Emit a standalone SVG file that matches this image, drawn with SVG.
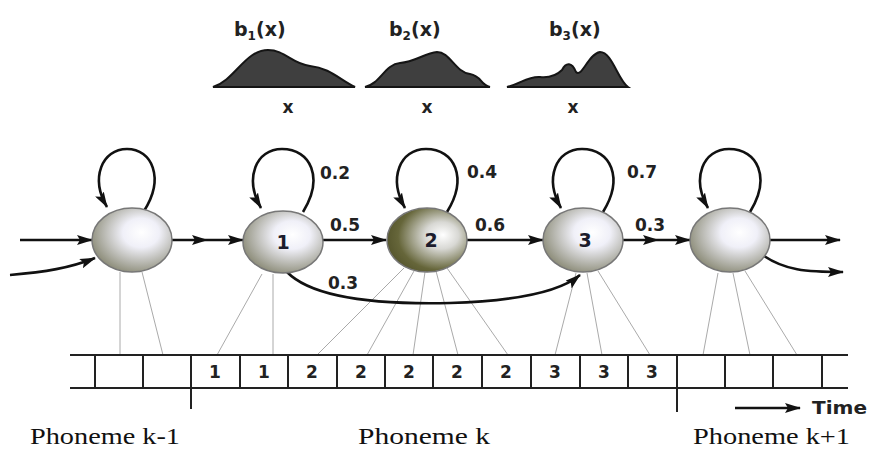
<svg xmlns="http://www.w3.org/2000/svg" width="869" height="450" viewBox="0 0 869 450">
<style>
.conn{fill:none;stroke:#111;stroke-width:2.6}
.thin{fill:none;stroke:#aaa;stroke-width:1}
.grid{fill:none;stroke:#222;stroke-width:2}
.lab{font-family:"DejaVu Sans","Liberation Sans",sans-serif;font-weight:bold;font-size:17px;fill:#222}
.top{font-size:19px}
.st{font-family:"DejaVu Sans","Liberation Sans",sans-serif;font-weight:bold;font-size:19px;fill:#1c1c2c;text-anchor:middle}
.cell{font-family:"DejaVu Sans","Liberation Sans",sans-serif;font-weight:bold;font-size:17px;fill:#222;text-anchor:middle}
.ph{font-family:"Liberation Serif","DejaVu Serif",serif;font-size:23px;fill:#111}
.dens{fill:#3f3f3f;stroke:#151515;stroke-width:2}
.node{stroke:#777;stroke-width:1.5}
</style>
<defs>
<radialGradient id="g" cx="0.6" cy="0.4" r="0.65" fx="0.62" fy="0.38">
<stop offset="0" stop-color="#ffffff"/><stop offset="0.35" stop-color="#f0f0f8"/><stop offset="1" stop-color="#8a8a76"/>
</radialGradient>
<radialGradient id="g2" cx="0.65" cy="0.45" r="0.7" fx="0.7" fy="0.42">
<stop offset="0" stop-color="#ffffff"/><stop offset="0.3" stop-color="#d8d8d4"/><stop offset="0.75" stop-color="#66663a"/><stop offset="1" stop-color="#52522a"/>
</radialGradient>
<marker id="ah" viewBox="0 0 16 10" refX="15" refY="5" markerWidth="16" markerHeight="10" markerUnits="userSpaceOnUse" orient="auto">
<path d="M0,0 L16,5 L0,10 L3,5 Z" fill="#111"/>
</marker>
</defs>

<g id="densities">
<path class="dens" d="M213,87 C235,80 245,50 268,50 C285,50 292,64 310,66 C330,68 340,80 355,87 Z"/>
<path class="dens" d="M365,87 C380,84 385,64 400,63 C415,62 425,53 437,52 C450,52 455,72 470,74 C482,76 480,85 490,87 Z"/>
<path class="dens" d="M507,87 C520,84 528,76 540,77 C550,78 556,76 562,70 C566,62 572,62 576,72 C582,78 588,54 600,52 C612,52 618,80 628,87 Z"/>
<text class="lab top" x="234" y="36">b<tspan font-size="12" dy="4">1</tspan><tspan dy="-4">(x)</tspan></text>
<text class="lab top" x="389" y="36">b<tspan font-size="12" dy="4">2</tspan><tspan dy="-4">(x)</tspan></text>
<text class="lab top" x="549" y="36">b<tspan font-size="12" dy="4">3</tspan><tspan dy="-4">(x)</tspan></text>
<text class="lab" x="288" y="113" text-anchor="middle">x</text>
<text class="lab" x="427" y="113" text-anchor="middle">x</text>
<text class="lab" x="573" y="113" text-anchor="middle">x</text>
</g>

<g id="emission-lines">
<path class="thin" d="M120,272 L120,355 M142,272 L163,355"/>
<path class="thin" d="M262,274 L217,355 M273,274 L273,355"/>
<path class="thin" d="M404,268 L317,355 M414,271 L367,355 M425,272 L413,355 M436,271 L458,355 M447,268 L508,355"/>
<path class="thin" d="M576,273 L555,355 M587,273 L602,355 M598,271 L650,355"/>
<path class="thin" d="M718,273 L703,355 M733,273 L750,355 M745,271 L797,355"/>
</g>

<g id="connectors">
<path class="conn" d="M144,211 C165,178 152,149 127,149 C102,149 90,178 107,207" marker-end="url(#ah)"/>
<path class="conn" d="M303,212 C324,178 311,149 282,149 C256,149 244,178 261,208" marker-end="url(#ah)"/>
<path class="conn" d="M447,212 C468,178 455,149 426,149 C400,149 388,178 405,208" marker-end="url(#ah)"/>
<path class="conn" d="M603,212 C624,178 611,149 582,149 C556,149 544,178 561,208" marker-end="url(#ah)"/>
<path class="conn" d="M750,212 C771,178 758,149 729,149 C703,149 691,178 708,208" marker-end="url(#ah)"/>
<path class="conn" d="M20,240 L92,240" marker-end="url(#ah)"/>
<path class="conn" d="M10,275 C45,272 70,268 95,258" marker-end="url(#ah)"/>
<polyline class="conn" points="172,240 207,240 243,240" marker-mid="url(#ah)" marker-end="url(#ah)"/>
<path class="conn" d="M323,240 L386,240" marker-end="url(#ah)"/>
<path class="conn" d="M467,240 L543,240" marker-end="url(#ah)"/>
<polyline class="conn" points="623,240 658,240 690,240" marker-mid="url(#ah)" marker-end="url(#ah)"/>
<path class="conn" d="M770,240 L840,240" marker-end="url(#ah)"/>
<path class="conn" d="M764,256 C785,270 805,272 843,272" marker-end="url(#ah)"/>
<path class="conn" d="M287,272 Q320,306 450,303 Q550,300 580,275" marker-end="url(#ah)"/>
</g>

<g id="node-km1"><ellipse class="node" cx="132" cy="240" rx="40" ry="32" fill="url(#g)"/></g>
<g id="node-1"><ellipse class="node" cx="283" cy="242" rx="40" ry="31" fill="url(#g)"/><text class="st" x="283" y="249">1</text></g>
<g id="node-2"><ellipse class="node" cx="427" cy="240" rx="40" ry="32" fill="url(#g2)"/><text class="st" x="431" y="247">2</text></g>
<g id="node-3"><ellipse class="node" cx="583" cy="240" rx="40" ry="32" fill="url(#g)"/><text class="st" x="585" y="247">3</text></g>
<g id="node-kp1"><ellipse class="node" cx="730" cy="240" rx="40" ry="32" fill="url(#g)"/></g>

<g id="labels">
<text class="lab" x="320" y="179">0.2</text>
<text class="lab" x="330" y="231">0.5</text>
<text class="lab" x="328" y="289">0.3</text>
<text class="lab" x="467" y="178">0.4</text>
<text class="lab" x="475" y="231">0.6</text>
<text class="lab" x="627" y="178">0.7</text>
<text class="lab" x="635" y="231">0.3</text>
</g>

<g id="strip">
<path class="grid" d="M70,355 L848,355 M70,388 L848,388"/>
<path class="grid" d="M95,355V388 M143,355V388 M191,355V409 M240,355V388 M288,355V388 M337,355V388 M385,355V388 M433,355V388 M482,355V388 M531,355V388 M580,355V388 M628,355V388 M677,355V412 M725,355V388 M773,355V388 M822,355V388"/>
<text class="cell" x="215" y="378">1</text>
<text class="cell" x="264" y="378">1</text>
<text class="cell" x="312" y="378">2</text>
<text class="cell" x="361" y="378">2</text>
<text class="cell" x="409" y="378">2</text>
<text class="cell" x="457" y="378">2</text>
<text class="cell" x="506" y="378">2</text>
<text class="cell" x="555" y="378">3</text>
<text class="cell" x="604" y="378">3</text>
<text class="cell" x="652" y="378">3</text>
</g>

<g id="time">
<path class="conn" d="M735,408 L800,408" marker-end="url(#ah)"/>
<text class="lab" x="812" y="414" font-size="18" textLength="55" lengthAdjust="spacingAndGlyphs">Time</text>
</g>

<g id="phonemes">
<text class="ph" x="30" y="444" textLength="150" lengthAdjust="spacingAndGlyphs">Phoneme k-1</text>
<text class="ph" x="358" y="444" textLength="132" lengthAdjust="spacingAndGlyphs">Phoneme k</text>
<text class="ph" x="693" y="444" textLength="157" lengthAdjust="spacingAndGlyphs">Phoneme k+1</text>
</g>
</svg>
